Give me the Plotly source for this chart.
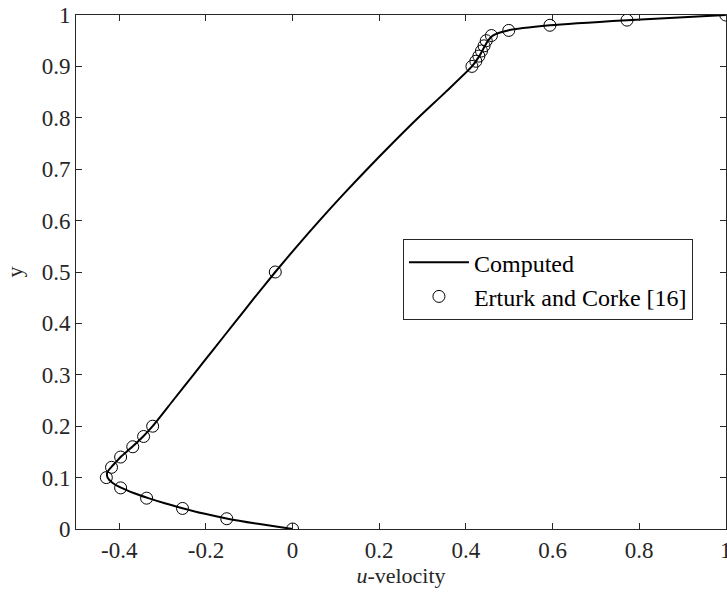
import plotly.graph_objects as go

# Computed u-velocity along the vertical centreline
computed_y = [0.000, 0.010, 0.020, 0.030, 0.040, 0.050, 0.060, 0.070, 0.080,
              0.090, 0.100, 0.110, 0.120, 0.130, 0.140, 0.160, 0.180, 0.200,
              0.250, 0.300, 0.350, 0.400, 0.450, 0.500, 0.550, 0.600, 0.650,
              0.700, 0.750, 0.800, 0.850, 0.900, 0.920, 0.940, 0.950,
              0.960, 0.970, 0.980, 0.990, 1.000]
computed_u = [0.000, -0.080, -0.150, -0.205, -0.252, -0.295, -0.333, -0.367, -0.395,
              -0.416, -0.427, -0.428, -0.419, -0.408, -0.397, -0.370, -0.345, -0.323,
              -0.276, -0.229, -0.182, -0.135, -0.088, -0.040, 0.010, 0.062, 0.116,
              0.172, 0.230, 0.290, 0.353, 0.414, 0.431, 0.444, 0.451,
              0.462, 0.497, 0.594, 0.772, 1.000]

# Reference data (Erturk and Corke)
ref_y = [0.00, 0.02, 0.04, 0.06, 0.08, 0.10, 0.12, 0.14, 0.16, 0.18, 0.20,
         0.50, 0.90, 0.91, 0.92, 0.93, 0.94, 0.95, 0.96, 0.97, 0.98, 0.99, 1.00]
ref_u = [0.000, -0.152, -0.254, -0.337, -0.397, -0.430, -0.418, -0.397, -0.369,
         -0.344, -0.323, -0.040, 0.414, 0.423, 0.430, 0.436, 0.442, 0.447, 0.459,
         0.499, 0.594, 0.772, 1.000]

x_ticks = [-0.4, -0.2, 0, 0.2, 0.4, 0.6, 0.8, 1]
x_tick_text = ["-0.4", "-0.2", "0", "0.2", "0.4", "0.6", "0.8", "1"]
y_ticks = [0, 0.1, 0.2, 0.3, 0.4, 0.5, 0.6, 0.7, 0.8, 0.9, 1]
y_tick_text = ["0", "0.1", "0.2", "0.3", "0.4", "0.5", "0.6", "0.7", "0.8", "0.9", "1"]

FONT = "Times New Roman"
AXIS_COLOR = "#262626"

fig = go.Figure()
fig.add_trace(go.Scatter(
    x=computed_u, y=computed_y, mode="lines", name="Computed",
    line=dict(color="black", width=2, shape="spline", smoothing=0.6),
))
fig.add_trace(go.Scatter(
    x=ref_u, y=ref_y, mode="markers", name="Erturk and Corke [16]",
    marker=dict(symbol="circle-open", size=12, color="black", line=dict(width=1)),
))

axis_common = dict(
    showline=True, linecolor=AXIS_COLOR, linewidth=1, mirror="ticks",
    ticks="inside", ticklen=6, tickcolor=AXIS_COLOR, showgrid=False, zeroline=False,
    tickfont=dict(family=FONT, size=23, color=AXIS_COLOR),
    ticklabeloverflow="allow", automargin=False,
)

fig.update_layout(
    width=727, height=597,
    margin=dict(l=76, r=1, t=15, b=68),
    paper_bgcolor="white", plot_bgcolor="white",
    font=dict(family=FONT, size=23, color=AXIS_COLOR),
    xaxis=dict(range=[-0.5, 1.0005], tickvals=x_ticks, ticktext=x_tick_text,
               title=dict(text="<i>u</i>-velocity", standoff=2,
                          font=dict(family=FONT, size=22, color=AXIS_COLOR)),
               **axis_common),
    yaxis=dict(range=[0, 1], tickvals=y_ticks, ticktext=y_tick_text,
               title=dict(text="y", standoff=12,
                          font=dict(family=FONT, size=22, color=AXIS_COLOR)),
               **axis_common),
    legend=dict(x=0.503, y=0.564, xanchor="left", yanchor="top",
                bgcolor="white", bordercolor=AXIS_COLOR, borderwidth=1,
                font=dict(family=FONT, size=24, color="black"),
                tracegroupgap=0, itemwidth=60),
    showlegend=True,
)

fig.write_html("out.html")
